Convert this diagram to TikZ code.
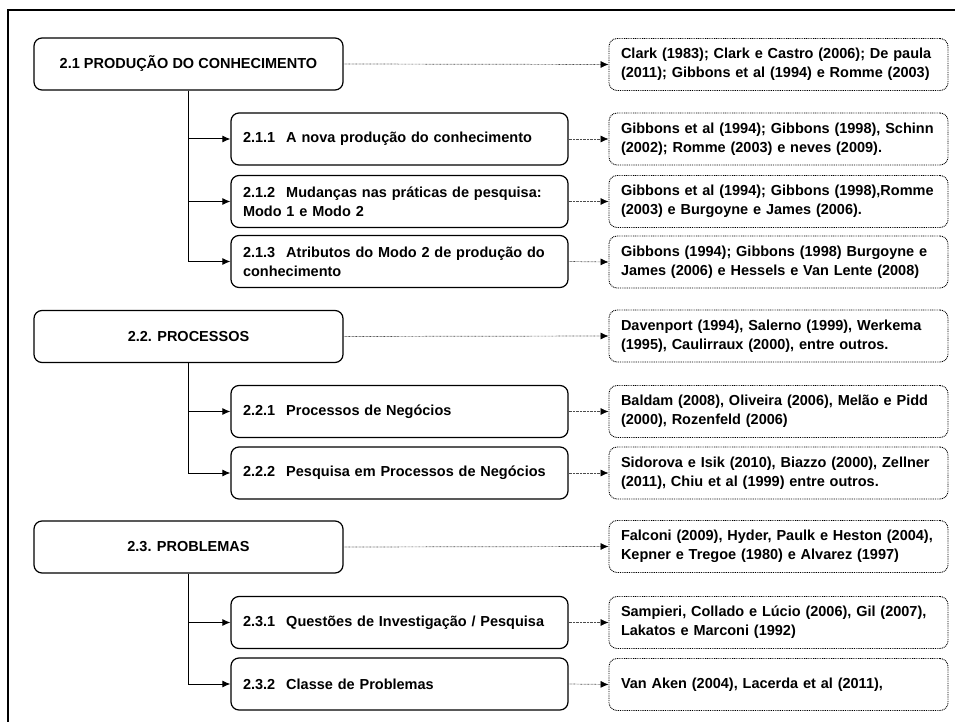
\documentclass[tikz,border=0pt]{standalone}
\usepackage{fontspec}
\setmainfont{Liberation Sans}
\usetikzlibrary{arrows.meta}
\newcommand\numgap{\hspace{11pt}}
\begin{document}
\begin{tikzpicture}[x=1pt,y=-1pt,
  every node/.style={font=\fontsize{14.5}{19}\selectfont\bfseries},
  mainbox/.style={draw=black, line width=1.2pt, rounded corners=8pt,
    minimum width=309pt, minimum height=52pt, align=center, inner sep=0pt},
  subbox/.style={draw=black, line width=1.2pt, rounded corners=8pt,
    text width=313pt, inner xsep=12pt, inner ysep=0pt, minimum height=52pt, align=left},
  refbox/.style={draw=black, line width=0.9pt, dash pattern=on 0.9pt off 0.9pt,
    rounded corners=8pt, text width=315pt, inner xsep=12pt, inner ysep=0pt,
    minimum height=52pt, align=left},
  branch/.style={draw=black, line width=1pt, -{Latex[length=8pt,width=7pt]}},
  cite/.style={draw=black!70, line width=0.7pt, dash pattern=on 0.7pt off 0.7pt,
    -{Latex[length=8pt,width=7pt,color=black]}},
]
\useasboundingbox (0,0) rectangle (955,722);

% outer frame (left and top edges)
\draw[line width=2pt] (7.5,722) -- (7.5,10) -- (955,10);

% ---------- 2.1 ----------
\node[mainbox] (m1) at (188.5,64) {2.1 PRODUÇÃO DO CONHECIMENTO};
\node[refbox] (r1) at (778.5,64.5) {\mbox{Clark (1983); Clark e Castro (2006); De paula}\\\mbox{(2011); Gibbons et al (1994) e Romme (2003)}};

\node[subbox] (s11) at (399.5,139) {2.1.1\numgap A nova produção do conhecimento};
\node[subbox] (s12) at (399.5,201.5) {2.1.2\numgap Mudanças nas práticas de pesquisa:\\Modo 1 e Modo 2};
\node[subbox] (s13) at (399.5,261.5) {2.1.3\numgap Atributos do Modo 2 de produção do\\conhecimento};

\node[refbox] (r11) at (778.5,139) {\mbox{Gibbons et al (1994); Gibbons (1998), Schinn}\\\mbox{(2002); Romme (2003) e neves (2009).}};
\node[refbox] (r12) at (778.5,201.5) {\mbox{Gibbons et al (1994); Gibbons (1998),Romme}\\\mbox{(2003) e Burgoyne e James (2006).}};
\node[refbox] (r13) at (778.5,262) {\mbox{Gibbons (1994); Gibbons (1998) Burgoyne e}\\\mbox{James (2006) e Hessels e Van Lente (2008)}};

% ---------- 2.2 ----------
\node[mainbox] (m2) at (188.5,336.5) {2.2. PROCESSOS};
\node[refbox] (r2) at (778.5,336) {\mbox{Davenport (1994), Salerno (1999), Werkema}\\\mbox{(1995), Caulirraux (2000), entre outros.}};

\node[subbox] (s21) at (399.5,411.5) {2.2.1\numgap Processos de Negócios};
\node[subbox] (s22) at (399.5,473) {2.2.2\numgap Pesquisa em Processos de Negócios};

\node[refbox] (r21) at (778.5,411.5) {\mbox{Baldam (2008), Oliveira (2006), Melão e Pidd}\\\mbox{(2000), Rozenfeld (2006)}};
\node[refbox] (r22) at (778.5,473) {\mbox{Sidorova e Isik (2010), Biazzo (2000), Zellner}\\\mbox{(2011), Chiu et al (1999) entre outros.}};

% ---------- 2.3 ----------
\node[mainbox] (m3) at (188.5,547) {2.3. PROBLEMAS};
\node[refbox] (r3) at (778.5,546.5) {\mbox{Falconi (2009), Hyder, Paulk e Heston (2004),}\\\mbox{Kepner e Tregoe (1980) e Alvarez (1997)}};

\node[subbox] (s31) at (399.5,622.5) {2.3.1\numgap Questões de Investigação / Pesquisa};
\node[subbox] (s32) at (399.5,684) {2.3.2\numgap Classe de Problemas};

\node[refbox] (r31) at (778.5,622.5) {\mbox{Sampieri, Collado e Lúcio (2006), Gil (2007),}\\\mbox{Lakatos e Marconi (1992)}};
\node[refbox] (r32) at (778.5,684.5) {Van Aken (2004), Lacerda et al (2011),};

% tree branches
\foreach \m/\s in {m1/s11, m1/s12, m1/s13, m2/s21, m2/s22, m3/s31, m3/s32}
  \draw[branch] (\m.south) |- (\s.west);

% citation links
\foreach \a/\b in {m1/r1, s11/r11, s12/r12, s13/r13, m2/r2, s21/r21, s22/r22, m3/r3, s31/r31, s32/r32}
  \draw[cite] (\a.east) -- (\b.west);
\end{tikzpicture}
\end{document}
